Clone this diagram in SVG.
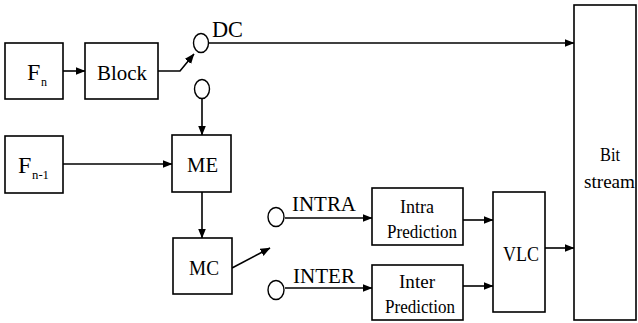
<svg xmlns="http://www.w3.org/2000/svg" width="638" height="323" viewBox="0 0 638 323" font-family="'Liberation Serif', 'Times New Roman', serif">
<style>
.box{fill:#fff;stroke:#000;stroke-width:1.6}
.ln{fill:none;stroke:#000;stroke-width:1.6}
.sw{fill:#fff;stroke:#000;stroke-width:1.4}
.f{font-family:"Liberation Serif","Times New Roman",serif;fill:#000}
</style>
<defs>
<marker id="ah" markerWidth="10" markerHeight="9" refX="9.5" refY="4.5" orient="auto" markerUnits="userSpaceOnUse">
<path d="M0,0.5 L10,4.5 L0,8.5 Z" fill="#000"/>
</marker>
</defs>
<rect width="638" height="323" fill="#fff"/>
<g id="connectors">
<line class="ln" x1="63" y1="71" x2="85" y2="71" marker-end="url(#ah)"/>
<polyline class="ln" points="158,71 180,71 194,54" marker-end="url(#ah)"/>
<line class="ln" x1="209" y1="43" x2="574" y2="43" marker-end="url(#ah)"/>
<line class="ln" x1="202" y1="98" x2="202" y2="135" marker-end="url(#ah)"/>
<line class="ln" x1="63" y1="164" x2="172" y2="164" marker-end="url(#ah)"/>
<line class="ln" x1="202" y1="192" x2="202" y2="238" marker-end="url(#ah)"/>
<line class="ln" x1="232" y1="268" x2="270" y2="248" marker-end="url(#ah)"/>
<line class="ln" x1="285" y1="218" x2="372" y2="218" marker-end="url(#ah)"/>
<line class="ln" x1="285" y1="288" x2="372" y2="288" marker-end="url(#ah)"/>
<line class="ln" x1="463" y1="220" x2="493" y2="220" marker-end="url(#ah)"/>
<line class="ln" x1="463" y1="286" x2="493" y2="286" marker-end="url(#ah)"/>
<line class="ln" x1="545" y1="248" x2="574" y2="248" marker-end="url(#ah)"/>
</g>
<g id="switch-dc">
<ellipse class="sw" cx="201" cy="43" rx="7.5" ry="9.5"/>
<text class="f" x="212" y="37" font-size="23" textLength="31" lengthAdjust="spacingAndGlyphs">DC</text>
</g>
<g id="switch-me">
<ellipse class="sw" cx="202" cy="89" rx="7.5" ry="9.5"/>
</g>
<g id="switch-intra">
<ellipse class="sw" cx="276" cy="217" rx="8" ry="9.5"/>
<text class="f" x="292" y="211" font-size="22" textLength="64" lengthAdjust="spacingAndGlyphs">INTRA</text>
</g>
<g id="switch-inter">
<ellipse class="sw" cx="276" cy="290" rx="8" ry="9.5"/>
<text class="f" x="293" y="283" font-size="22" textLength="62" lengthAdjust="spacingAndGlyphs">INTER</text>
</g>
<g id="fn">
<rect class="box" x="5" y="43" width="58" height="56"/>
<text class="f" x="27" y="80" font-size="24">F</text>
<text class="f" x="41" y="86" font-size="12">n</text>
</g>
<g id="block">
<rect class="box" x="85" y="43" width="73" height="56"/>
<text class="f" x="97" y="80" font-size="22" textLength="50" lengthAdjust="spacingAndGlyphs">Block</text>
</g>
<g id="fn1">
<rect class="box" x="5" y="136" width="58" height="57"/>
<text class="f" x="18" y="173" font-size="24">F</text>
<text class="f" x="32" y="179" font-size="12" textLength="17" lengthAdjust="spacingAndGlyphs">n-1</text>
</g>
<g id="me">
<rect class="box" x="172" y="135" width="59" height="57"/>
<text class="f" x="187" y="172" font-size="22" textLength="31" lengthAdjust="spacingAndGlyphs">ME</text>
</g>
<g id="mc">
<rect class="box" x="173" y="238" width="59" height="56"/>
<text class="f" x="189" y="275" font-size="22" textLength="30" lengthAdjust="spacingAndGlyphs">MC</text>
</g>
<g id="intra-pred">
<rect class="box" x="372" y="188" width="91" height="57"/>
<text class="f" x="400" y="213" font-size="19" textLength="34" lengthAdjust="spacingAndGlyphs">Intra</text>
<text class="f" x="387" y="238" font-size="19" textLength="70" lengthAdjust="spacingAndGlyphs">Prediction</text>
</g>
<g id="inter-pred">
<rect class="box" x="372" y="265" width="91" height="55"/>
<text class="f" x="399" y="288" font-size="19" textLength="36" lengthAdjust="spacingAndGlyphs">Inter</text>
<text class="f" x="385" y="313" font-size="19" textLength="70" lengthAdjust="spacingAndGlyphs">Prediction</text>
</g>
<g id="vlc">
<rect class="box" x="493" y="192" width="52" height="120"/>
<text class="f" x="503" y="261" font-size="22" textLength="36" lengthAdjust="spacingAndGlyphs">VLC</text>
</g>
<g id="bitstream">
<rect class="box" x="574" y="5" width="62" height="315"/>
<text class="f" x="600" y="161" font-size="19" textLength="20" lengthAdjust="spacingAndGlyphs">Bit</text>
<text class="f" x="584" y="188" font-size="19" textLength="51" lengthAdjust="spacingAndGlyphs">stream</text>
</g>
</svg>
